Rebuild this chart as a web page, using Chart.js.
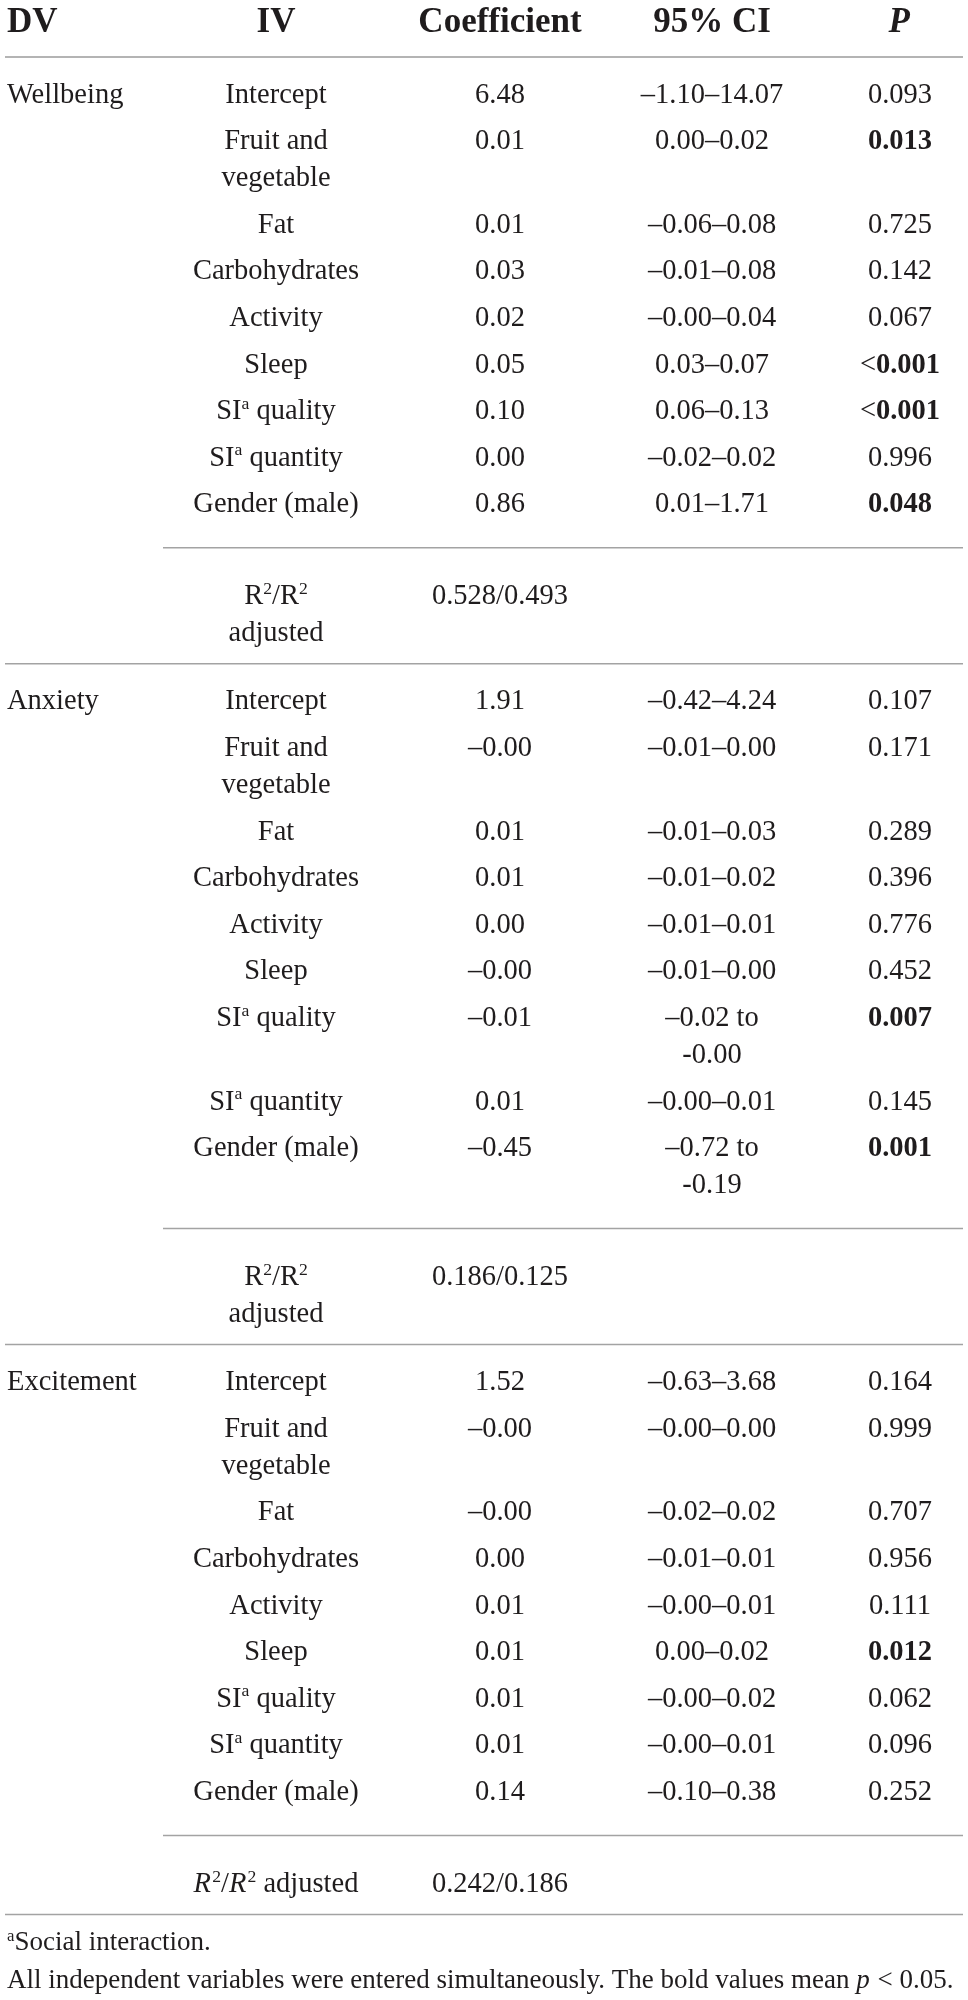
<!DOCTYPE html>
<html>
<head>
<meta charset="utf-8">
<script src="https://cdn.jsdelivr.net/npm/chart.js@4.4.1/dist/chart.umd.min.js"></script>
<style>
  html, body { margin: 0; padding: 0; background: #ffffff; }
  #wrap { width: 968px; height: 2000px; }
</style>
</head>
<body>
<div id="wrap"><canvas id="c" width="968" height="2000"></canvas></div>
<script>
// ---------------- DATA ----------------
const columnHeaders = ['DV', 'IV', 'Coefficient', '95% CI', '*P*'];
const dvNames = ['Wellbeing', 'Anxiety', 'Excitement'];
const ivLabels = ['Intercept', 'Fruit and\nvegetable', 'Fat', 'Carbohydrates', 'Activity', 'Sleep',
                  'SI^a quality', 'SI^a quantity', 'Gender (male)'];

const wellbeingCoef = ['6.48', '0.01', '0.01', '0.03', '0.02', '0.05', '0.10', '0.00', '0.86'];
const wellbeingCI   = ['\u20131.10\u201314.07', '0.00\u20130.02', '\u20130.06\u20130.08', '\u20130.01\u20130.08',
                       '\u20130.00\u20130.04', '0.03\u20130.07', '0.06\u20130.13', '\u20130.02\u20130.02', '0.01\u20131.71'];
const wellbeingP    = ['0.093', '0.013', '0.725', '0.142', '0.067', '<0.001', '<0.001', '0.996', '0.048'];
const wellbeingSig  = [false, true, false, false, false, true, true, false, true];

const anxietyCoef = ['1.91', '\u20130.00', '0.01', '0.01', '0.00', '\u20130.00', '\u20130.01', '0.01', '\u20130.45'];
const anxietyCI   = ['\u20130.42\u20134.24', '\u20130.01\u20130.00', '\u20130.01\u20130.03', '\u20130.01\u20130.02',
                     '\u20130.01\u20130.01', '\u20130.01\u20130.00', '\u20130.02 to\n-0.00', '\u20130.00\u20130.01', '\u20130.72 to\n-0.19'];
const anxietyP    = ['0.107', '0.171', '0.289', '0.396', '0.776', '0.452', '0.007', '0.145', '0.001'];
const anxietySig  = [false, false, false, false, false, false, true, false, true];

const excitementCoef = ['1.52', '\u20130.00', '\u20130.00', '0.00', '0.01', '0.01', '0.01', '0.01', '0.14'];
const excitementCI   = ['\u20130.63\u20133.68', '\u20130.00\u20130.00', '\u20130.02\u20130.02', '\u20130.01\u20130.01',
                        '\u20130.00\u20130.01', '0.00\u20130.02', '\u20130.00\u20130.02', '\u20130.00\u20130.01', '\u20130.10\u20130.38'];
const excitementP    = ['0.164', '0.999', '0.707', '0.956', '0.111', '0.012', '0.062', '0.096', '0.252'];
const excitementSig  = [false, false, false, false, false, true, false, false, false];

const r2Labels = ['R^2/R^2\nadjusted', 'R^2/R^2\nadjusted', '*R*^2/*R*^2 adjusted'];
const r2Values = ['0.528/0.493', '0.186/0.125', '0.242/0.186'];

const footnotes = ['^aSocial interaction.',
  'All independent variables were entered simultaneously. The bold values mean *p* < 0.05.'];

const blocks = [
  { dv: dvNames[0], coef: wellbeingCoef, ci: wellbeingCI, p: wellbeingP, sig: wellbeingSig, r2l: r2Labels[0], r2v: r2Values[0] },
  { dv: dvNames[1], coef: anxietyCoef, ci: anxietyCI, p: anxietyP, sig: anxietySig, r2l: r2Labels[1], r2v: r2Values[1] },
  { dv: dvNames[2], coef: excitementCoef, ci: excitementCI, p: excitementP, sig: excitementSig, r2l: r2Labels[2], r2v: r2Values[2] }
];

// ---------------- LAYOUT / STYLE ----------------
const FONT = '"Liberation Serif", "Times New Roman", serif';
const TEXT = '#1f1c1d';
const colX = { dv: 7, iv: 276, coef: 500, ci: 712, p: 900 };
const ruleX = { full0: 5, part0: 163, end: 963 };
const L = {
  headerCenter: 20, headerRule: 57, firstGap: 36, rowStep: 46.6, wrapStep: 37,
  ruleGap: 45, r2Gap: 47, r2Wrap: 37, blockRuleGap: 32, foot1: 27, foot2: 38,
  bodySize: 28.5, headSize: 35, footSize: 27
};

function fontStr(size, bold, italic) {
  return (italic ? 'italic ' : '') + (bold ? 'bold ' : '') + size + 'px ' + FONT;
}

function parseRich(str, bold) {
  const segs = [];
  let italic = false, buf = '';
  const flush = () => { if (buf) { segs.push({ t: buf, sup: false, italic, bold }); buf = ''; } };
  for (let i = 0; i < str.length; i++) {
    const ch = str[i];
    if (ch === '*') { flush(); italic = !italic; continue; }
    if (ch === '^') { flush(); segs.push({ t: str[i + 1], sup: true, italic: false, bold }); i++; continue; }
    buf += ch;
  }
  flush();
  return segs;
}

function drawSegs(ctx, segs, x, baseline, align, size) {
  let total = 0;
  const widths = segs.map(s => {
    ctx.font = fontStr(s.sup ? size * 0.62 : size, s.bold, s.italic);
    const w = ctx.measureText(s.t).width + (s.italic && !s.sup ? size * 0.04 : 0);
    total += w;
    return w;
  });
  let cx = align === 'center' ? x - total / 2 : x;
  segs.forEach((s, i) => {
    ctx.font = fontStr(s.sup ? size * 0.62 : size, s.bold, s.italic);
    ctx.fillText(s.t, cx, s.sup ? baseline - size * 0.36 : baseline);
    cx += widths[i];
  });
}

const tablePlugin = {
  id: 'tablePlugin',
  afterDraw(chart) {
    const ctx = chart.ctx;
    const xs = chart.scales.x, ys = chart.scales.y;
    const X = v => xs.getPixelForValue(v);
    const Y = v => ys.getPixelForValue(v);
    ctx.save();
    ctx.fillStyle = TEXT;
    ctx.textBaseline = 'alphabetic';
    ctx.textAlign = 'left';

    const rule = (x0, y, w, color) => {
      ctx.strokeStyle = color; ctx.lineWidth = w;
      ctx.beginPath(); ctx.moveTo(X(x0), Y(y)); ctx.lineTo(X(ruleX.end), Y(y)); ctx.stroke();
    };
    const cell = (str, x, yc, align, size, bold, step) => {
      str.split('\n').forEach((line, k) => {
        drawSegs(ctx, parseRich(line, bold), X(x), Y(yc + k * step) + size * 0.335, align, size);
      });
      return str.split('\n').length;
    };
    const pCell = (str, sig, yc) => {
      if (sig && str[0] === '<') {
        drawSegs(ctx, [{ t: '<', sup: false, italic: false, bold: false },
                       { t: str.slice(1), sup: false, italic: false, bold: true }],
                 X(colX.p), Y(yc) + L.bodySize * 0.335, 'center', L.bodySize);
      } else {
        cell(str, colX.p, yc, 'center', L.bodySize, sig, L.wrapStep);
      }
    };

    // header
    const hx = [colX.dv, colX.iv, colX.coef, colX.ci, colX.p];
    columnHeaders.forEach((h, i) => {
      cell(h, hx[i], L.headerCenter, i === 0 ? 'left' : 'center', L.headSize, true, 0);
    });
    rule(ruleX.full0, L.headerRule, 2.2, '#b4b4b4');

    let y = L.headerRule + L.firstGap;
    let lastRule = 0;
    blocks.forEach(b => {
      cell(b.dv, colX.dv, y, 'left', L.bodySize, false, L.wrapStep);
      let yLast = y;
      ivLabels.forEach((lab, i) => {
        const n = Math.max(
          cell(lab, colX.iv, y, 'center', L.bodySize, false, L.wrapStep),
          cell(b.coef[i], colX.coef, y, 'center', L.bodySize, false, L.wrapStep),
          cell(b.ci[i], colX.ci, y, 'center', L.bodySize, false, L.wrapStep));
        pCell(b.p[i], b.sig[i], y);
        yLast = y + (n - 1) * L.wrapStep;
        y = yLast + L.rowStep;
      });
      const pr = yLast + L.ruleGap;
      rule(ruleX.part0, pr, 1.5, '#a3a3a3');
      const r2y = pr + L.r2Gap;
      const n2 = cell(b.r2l, colX.iv, r2y, 'center', L.bodySize, false, L.r2Wrap);
      cell(b.r2v, colX.coef, r2y, 'center', L.bodySize, false, L.r2Wrap);
      const fr = r2y + (n2 - 1) * L.r2Wrap + L.blockRuleGap;
      rule(ruleX.full0, fr, 1.5, '#a3a3a3');
      lastRule = fr;
      y = fr + L.firstGap;
    });

    cell(footnotes[0], colX.dv, lastRule + L.foot1, 'left', L.footSize, false, 0);
    cell(footnotes[1], colX.dv, lastRule + L.foot1 + L.foot2, 'left', L.footSize, false, 0);
    ctx.restore();
  }
};

new Chart(document.getElementById('c'), {
  type: 'scatter',
  data: { datasets: [] },
  options: {
    responsive: false,
    animation: false,
    devicePixelRatio: 1,
    layout: { padding: 0 },
    plugins: { legend: { display: false }, tooltip: { enabled: false } },
    scales: {
      x: { type: 'linear', min: 0, max: 968, display: false },
      y: { type: 'linear', min: 0, max: 2000, reverse: true, display: false }
    }
  },
  plugins: [tablePlugin]
});
</script>
</body>
</html>
